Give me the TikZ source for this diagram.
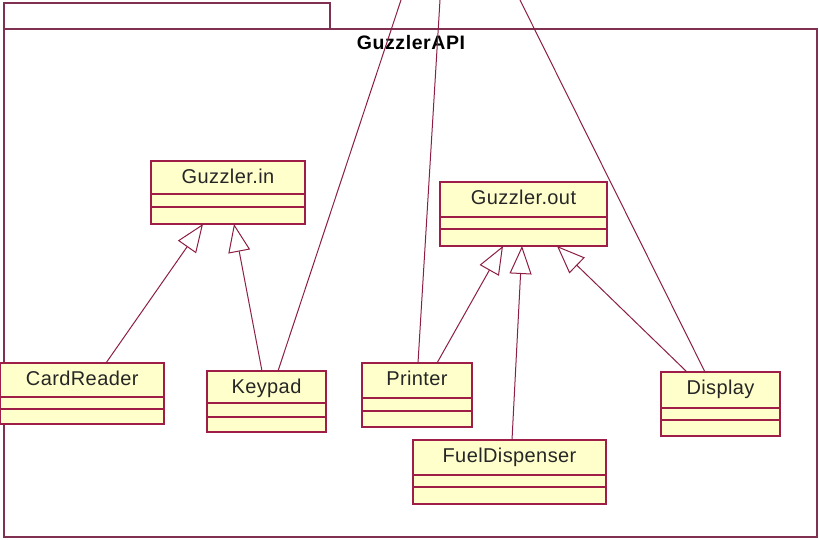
\documentclass[tikz,border=0pt]{standalone}
\usepackage{fontspec}
\setmainfont{Liberation Sans}
\newfontfamily\clsfont[LetterSpace=2]{Liberation Sans}
\newfontfamily\pkgfont[LetterSpace=3]{Liberation Sans}
\usetikzlibrary{arrows.meta}

\definecolor{umlred}{RGB}{158,30,72}
\definecolor{pkgred}{RGB}{128,48,80}
\definecolor{lnred}{RGB}{140,30,70}
\definecolor{umlfill}{RGB}{255,255,204}

\tikzset{
  clsbox/.style={draw=umlred, fill=umlfill, line width=1.2pt, inner sep=0pt, outer sep=0pt},
  clsdiv/.style={draw=umlred, line width=1.2pt},
  clsname/.style={font=\clsfont\fontsize{20}{22}\selectfont, text=black!85,
    inner sep=0pt, anchor=base},
  pkgbox/.style={draw=pkgred, line width=1.2pt},
  assoc/.style={draw=lnred, line width=1pt},
  generalize/.style={draw=lnred, line width=1pt,
    -{Triangle[length=28pt, width=22pt, fill=white, line width=1pt]}},
}

% UML class: #1 node name, #2 left, #3 top, #4 right, #5 bottom,
% #6 / #7 compartment dividers, #8 class name
\newcommand{\umlclass}[8]{%
  \node[clsbox, minimum width={#4-#2}, minimum height={#5-#3}]
    (#1) at ({(#2+#4)/2},{(#3+#5)/2}) {};
  \draw[clsdiv] (#2,#6) -- (#4,#6);
  \draw[clsdiv] (#2,#7) -- (#4,#7);
  \node[clsname] (#1-label) at ({(#2+#4)/2},{#3+22.5}) {#8};
}

\begin{document}
\begin{tikzpicture}[x=1pt, y=-1pt]
  \useasboundingbox (0,0) rectangle (819,539);

  % package tab and body
  \draw[pkgbox] (4,3) rectangle (330,29);
  \draw[pkgbox] (4,29) rectangle (817,537);
  \node[font=\pkgfont\bfseries\fontsize{19.5}{21}\selectfont, inner sep=0pt]
    (pkgtitle) at (411,43) {GuzzlerAPI};

  % free ends of the associations leaving the package
  \coordinate (outA) at (401,0);
  \coordinate (outB) at (440,0);
  \coordinate (outC) at (520,0);

  % classes
  \umlclass{gin}{151}{161}{305}{224}{194}{207}{Guzzler.in}
  \umlclass{gout}{440}{182}{607}{246}{217}{229}{Guzzler.out}
  \umlclass{card}{0.5}{363}{164}{424}{397}{409}{CardReader}
  \umlclass{keypad}{207}{371}{326}{432}{403}{417}{Keypad}
  \umlclass{printer}{362}{363}{472}{427}{398}{411}{Printer}
  \umlclass{fuel}{413}{440}{606}{504}{475}{487}{FuelDispenser}
  \umlclass{display}{661}{372}{780}{436}{408}{420}{Display}

  % generalizations
  \draw[generalize] ([xshift=23.75pt]card.north) -- ([xshift=-25pt]gin.south);
  \draw[generalize] ([xshift=-4.5pt]keypad.north) -- ([xshift=6pt]gin.south);
  \draw[generalize] ([xshift=20pt]printer.north) -- ([xshift=-20.5pt]gout.south);
  \draw[generalize] ([xshift=2.5pt]fuel.north) -- ([xshift=-1.5pt]gout.south);
  \draw[generalize] ([xshift=-33.5pt]display.north) -- ([xshift=33.5pt]gout.south);

  % associations
  \draw[assoc] ([xshift=11.5pt]keypad.north) -- (outA);
  \draw[assoc] ([xshift=1pt]printer.north) -- (outB);
  \draw[assoc] ([xshift=-15.5pt]display.north) -- (outC);
\end{tikzpicture}
\end{document}
